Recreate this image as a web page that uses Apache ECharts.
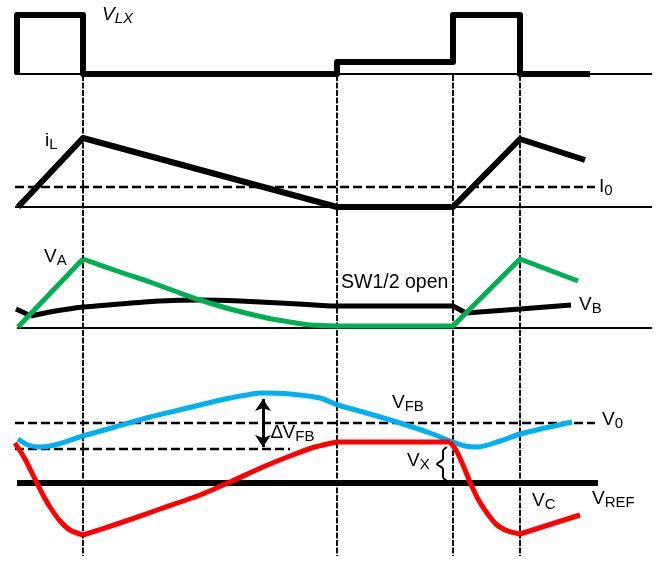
<!DOCTYPE html>
<html><head><meta charset="utf-8">
<script src="https://cdn.jsdelivr.net/npm/echarts@6/dist/echarts.min.js"></script>
<style>html,body{margin:0;padding:0;background:#fff}#c{width:657px;height:563px}</style>
</head><body><div id="c"></div>
<script>
// --- data (diagram units: x = time, y = drawn level) ---
const vlxBase = [[15,74],[652,74]];
const vlx = [[17,74],[17,15],[83,15],[83,74],[337,74],[337,62],[453,62],[453,15],[520,15],[520,74],[590,74]];
const switchTimes = [83,337,453,520];
const markerSpan = [75,556];
const iLBase = [[15,207],[652,207]];
const i0 = [[15,187],[595,187]];
const iL = [[18,207],[83,138],[337,207],[453,207],[520,139],[585,160]];
const vaBase = [[17,328],[652,328]];
const vbStart = [[16,309],[31,316]];
const vbCurve = [[31,316],[50,312],[83,307],[120,304],[160,301],[200,300],[240,301],[280,303],[330,306]];
const vbTail = [[330,306],[453,306],[466,313],[520,309],[571,305]];
const vaRise = [[18,327],[83,259]];
const vaDecay = [[83,259],[120,272],[150,282],[180,293],[200,300],[230,309],[267,318],[290,322],[310,325],[337,326]];
const vaTail = [[337,326],[453,326],[520,259],[578,281]];
const v0 = [[15,423],[595,423]];
const vLow = [[15,449],[290,449]];
const vref = [[17,483],[598,483]];
const vfb = [[18,439],[28,445],[40,447],[55,445],[83,436],[115,427],[150,417],[175,411],[200,405],[230,398],[263,393],[290,394],[320,398],[338,405],[370,414],[400,423],[430,433],[453,442],[465,446],[478,447],[500,441],[520,434],[545,428],[572,422]];
const vcDrop = [[15,443],[25,459],[33,475],[42,493],[50,507],[60,521],[70,530],[83,535]];
const vcRise = [[83,535],[120,523],[160,509],[200,495],[230,482],[263,467],[290,456],[315,447],[337,442]];
const vcFlat = [[337,442],[450,442]];
const vcDrop2 = [[450,442],[456,450],[463,465],[470,482],[478,499],[487,513],[497,525],[508,531],[520,534]];
const vcTail = [[520,534],[580,515]];
const brace = [[447,447],[443,451],[443,459],[437,464],[443,469],[443,477],[447,481]];
const dvfbArrow = [[263,399],[263,447]];

const BLACK='#000', GREEN='#00b050', BLUE='#00b0f0', RED='#ff0000';
function ln(data, color, width, opts={}) {
  return {type:'line', data, symbol:'none', silent:true, animation:false,
    lineStyle:{color, width, type: opts.dash||'solid', cap:'butt', join:'round'},
    smooth: opts.smooth||false};
}
const series = [
  ln(vlxBase,BLACK,2),
  ln(vlx,BLACK,6),
  ...switchTimes.map(t=>ln([[t,markerSpan[0]],[t,markerSpan[1]]],'#111',2,{dash:[6,1.5]})),
  ln(iLBase,BLACK,2),
  ln(i0,BLACK,2.5,{dash:[9,4]}),
  ln(iL,BLACK,6),
  ln(vaBase,BLACK,2),
  ln(vbStart,BLACK,5),
  ln(vbCurve,BLACK,5,{smooth:0.25}),
  ln(vbTail,BLACK,5),
  ln(vaRise,GREEN,5),
  ln(vaDecay,GREEN,5,{smooth:0.25}),
  ln(vaTail,GREEN,5),
  ln(v0,BLACK,2.5,{dash:[9,4]}),
  ln(vLow,BLACK,2.5,{dash:[9,4]}),
  ln(vref,BLACK,6),
  ln(vfb,BLUE,5,{smooth:0.25}),
  ln(vcDrop,RED,5,{smooth:0.25}),
  ln(vcRise,RED,5,{smooth:0.25}),
  ln(vcFlat,RED,5),
  ln(vcDrop2,RED,5,{smooth:0.25}),
  ln(vcTail,RED,5),
  ln(brace,BLACK,2,{smooth:0.3}),
  {type:'lines', coordinateSystem:'cartesian2d', silent:true, animation:false,
   symbol:['arrow','arrow'], symbolSize:[12,12],
   lineStyle:{color:BLACK,width:3,opacity:1},
   data:[{coords:dvfbArrow}]}
];

const chart = echarts.init(document.getElementById('c'), null, {renderer:'canvas'});
const F = 'Liberation Sans, Arial, sans-serif';
function lab(x,y,main,sub,opts={}) {
  const st = opts.italic ? 'italic' : 'normal';
  return {type:'text', left:x, top:y, silent:true, style:{
    text: sub ? `{m|${main}}{s|${sub}}` : `{m|${main}}`,
    rich:{
      m:{fontSize:opts.fs||19, fontFamily:F, fontStyle:st, fill:'#000'},
      s:{fontSize:opts.ss||15, fontFamily:F, fontStyle:st, fill:'#000', padding:[9,0,0,0]}
    }}};
}
chart.setOption({
  animation:false,
  grid:{left:0,right:0,top:0,bottom:0},
  xAxis:{type:'value',min:0,max:657,show:false},
  yAxis:{type:'value',min:0,max:563,inverse:true,show:false},
  series,
  graphic:[
    lab(102,5,'V','LX',{italic:true}),
    lab(45,131,'i','L'),
    lab(599,177,'I','0'),
    lab(44,247,'V','A'),
    {type:'text',left:341,top:273,silent:true,style:{text:'SW1/2 open',fontSize:19.5,fontFamily:F,fill:'#000'}},
    lab(579,295,'V','B'),
    lab(392,393,'V','FB'),
    lab(602,410,'V','0'),
    lab(271,423,'\u2206V','FB'),
    lab(407,451,'V','X'),
    lab(532,491,'V','C'),
    lab(592,489,'V','REF')
  ]
});
</script></body></html>
